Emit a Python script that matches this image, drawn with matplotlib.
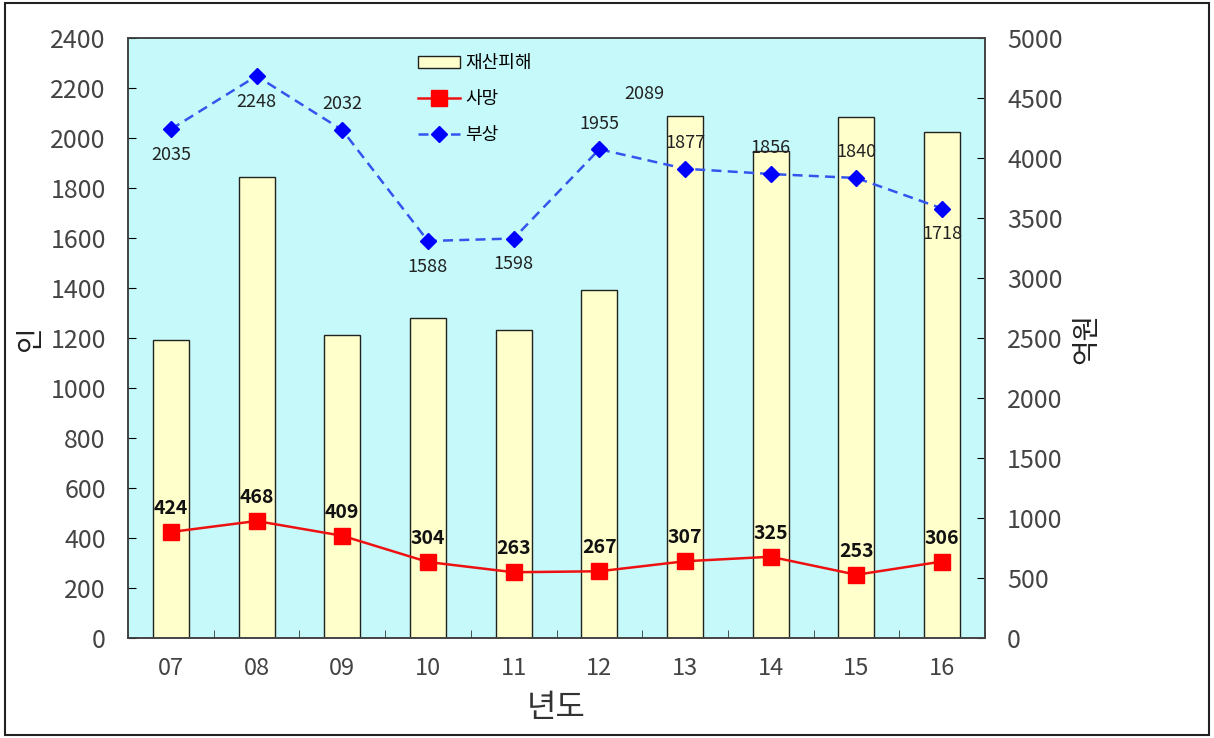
import numpy as np
import matplotlib.pyplot as plt
from matplotlib.patches import Rectangle

plt.rcParams['font.family'] = ['Noto Sans CJK KR', 'DejaVu Sans']

years = ['07', '08', '09', '10', '11', '12', '13', '14', '15', '16']
damage = [2483, 3842, 2525, 2667, 2567, 2900, 4350, 4058, 4342, 4217]   # 억원, right axis
deaths = [424, 468, 409, 304, 263, 267, 307, 325, 253, 306]
injured = [2035, 2248, 2032, 1588, 1598, 1955, 1877, 1856, 1840, 1718]
injured_above = [False, False, True, False, False, True, True, True, True, False]

x = np.arange(len(years))

fig = plt.figure(figsize=(12.14, 7.38), dpi=100)
fig.patches.append(Rectangle((0.004, 0.004), 0.992, 0.992, transform=fig.transFigure,
                             fill=False, edgecolor='#222222', linewidth=1.5))

ax = fig.add_axes([128/1214, 1 - 638/738, 857/1214, 600/738])
ax2 = ax.twinx()
ax.set_zorder(ax2.get_zorder() + 1)
ax.patch.set_visible(False)
ax2.set_facecolor('#c6fafa')
ax2.patch.set_visible(True)

bars = ax2.bar(x, damage, width=0.42, color='#ffffcc', edgecolor='#222222', linewidth=1.0,
               label='재산피해')
ax2.set_ylim(0, 5000)
ax2.set_yticks(np.arange(0, 5001, 500))

l1, = ax.plot(x, deaths, color='#ee1111', linewidth=1.8, marker='s', markersize=11,
              markerfacecolor='#ff0000', markeredgecolor='#ff0000', label='사망')
l2, = ax.plot(x, injured, color='#3355ee', linewidth=1.8, linestyle=(0, (4, 2.5)), marker='D',
              markersize=8, markerfacecolor='#0000ff', markeredgecolor='#0000ff', label='부상')

for xi, v in zip(x, deaths):
    ax.annotate(str(v), (xi, v), xytext=(0, 10), textcoords='offset points', ha='center',
                va='bottom', fontsize=14, fontweight='bold', color='#111111')
for xi, v, up in zip(x, injured, injured_above):
    ax.annotate(str(v), (xi, v), xytext=(0, 12 if up else -12), textcoords='offset points',
                ha='center', va='bottom' if up else 'top', fontsize=13, color='#222222')
ax.text(6 - 0.47, 2176, '2089', ha='center', va='center', fontsize=13, color='#222222')

ax.set_xlim(-0.5, len(years) - 0.5)
ax.set_ylim(0, 2400)
ax.set_yticks(np.arange(0, 2401, 200))
ax.set_xticks(x)
ax.set_xticklabels(years)
ax.set_xticks(np.arange(-0.5, len(years), 1), minor=True)
ax.tick_params(axis='x', which='major', length=0, pad=14, labelsize=17, labelcolor='#444444')
ax.tick_params(axis='x', which='minor', direction='in', length=6, color='#333333')
ax.tick_params(axis='y', direction='in', length=6, labelsize=18, labelcolor='#444444', pad=16)
ax2.tick_params(axis='y', direction='in', length=6, labelsize=18, labelcolor='#444444', pad=16)

for a in (ax, ax2):
    for s in a.spines.values():
        s.set_color('#444444')
        s.set_linewidth(1.2)

ax.set_xlabel('년도', fontsize=23, color='#333333', labelpad=8)
ax.set_ylabel('인', fontsize=20, color='#222222', labelpad=4)
ax2.set_ylabel('억원', fontsize=20, color='#222222', rotation=90, labelpad=6)

ax.legend([bars, l1, l2], ['재산피해', '사망', '부상'], loc='upper left',
          bbox_to_anchor=(0.32, 1.0), frameon=False, fontsize=13, labelspacing=1.0,
          handlelength=2.3, handletextpad=0.3)

fig.savefig('out.png', dpi=100)
